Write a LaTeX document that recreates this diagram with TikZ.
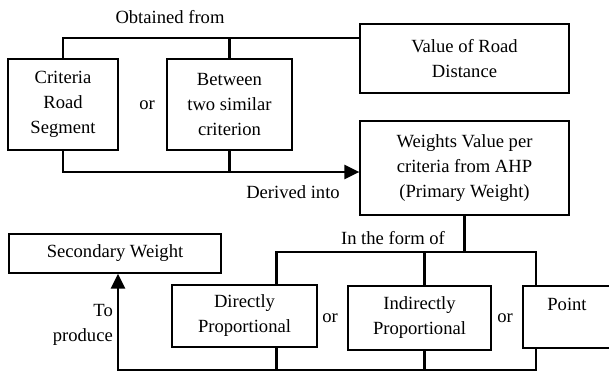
\documentclass[tikz,border=0pt]{standalone}
\usepackage{fontspec}
\setmainfont{Liberation Serif}
\usetikzlibrary{arrows.meta,positioning}

\begin{document}
\begin{tikzpicture}[
        x=1pt, y=-1pt,
        font=\fontsize{18.6}{25}\selectfont,
        box/.style={rectangle, draw=black, line width=1.2pt, inner sep=0pt, align=center},
        link/.style={line width=2.6pt},
        arrow/.style={link, -{Triangle[length=15pt,width=14pt]}},
        lbl/.style={inner sep=0pt, align=center}
    ]
        \useasboundingbox (0,0) rectangle (609,374);
        
        % Sources
        \node[box, minimum width=110pt, minimum height=91pt] (criteria) at (63,104.5) {Criteria\\Road\\Segment};
        \node[box, minimum width=125pt, minimum height=91pt] (between) at (229.5,104.5) {Between\\two similar\\criterion};
        \node[lbl] (or1) at (147,105) {or};
        \node[box, minimum width=209pt, minimum height=69pt] (distance) at (464.5,58.5) {Value of Road\\Distance};
        \node[box, minimum width=209pt, minimum height=94pt] (weights) at (464.5,168) {Weights Value per\\criteria from AHP\\(Primary Weight)};
        
        % Forms
        \node[box, minimum width=145pt, minimum height=62pt] (direct) at (244.5,316) {Directly\\Proportional};
        \node[box, minimum width=143pt, minimum height=64pt] (indirect) at (419.5,318) {Indirectly\\Proportional};
        \node[box, minimum width=88pt, minimum height=62pt] (point) at (567,317) {Point\\~};
        \node[lbl] (or2) at (330,318) {or};
        \node[lbl] (or3) at (505,318) {or};
        
        % Result
        \node[box, minimum width=212pt, minimum height=39pt] (secondary) at (115,253.5) {Secondary Weight};
        
        % Labels
        \node[lbl] (obtained) at (170,17) {Obtained from};
        \node[lbl] (derived) at (293,192) {Derived into};
        \node[lbl] (form) at (393,238) {In the form of};
        \node[lbl, align=right, anchor=east] (produce) at (113,325) {To\\produce};
        
        \coordinate (toprow) at (0,38);
        \coordinate (midrow) at (0,172);
        \coordinate (formrow) at (0,252);
        \coordinate (lowrow) at (0,370);
        
        % Obtained from
        \draw[link] (criteria.north) |- (distance.west |- toprow);
        \draw[link] (between.north) -- (between.north |- toprow);
        
        % Derived into
        \draw[arrow] (criteria.south) |- (weights.west |- midrow);
        \draw[link] (between.south) -- (between.south |- midrow);
        
        % In the form of
        \draw[link] (weights.south) -- (weights.south |- formrow);
        \draw[link] ([xshift=32pt]direct.north) |- ([xshift=-31pt]point.north |- formrow) -- ([xshift=-31pt]point.north);
        \draw[link] ([xshift=5pt]indirect.north) -- ([xshift=5pt]indirect.north |- formrow);
        
        % To produce
        \draw[link] ([xshift=32pt]direct.south) -- ([xshift=32pt]direct.south |- lowrow);
        \draw[link] ([xshift=5pt]indirect.south) -- ([xshift=5pt]indirect.south |- lowrow);
        \draw[arrow] ([xshift=-31pt]point.south) |- ([xshift=3pt]secondary.south |- lowrow) -- ([xshift=3pt]secondary.south);
        
    \end{tikzpicture}
\end{document}
